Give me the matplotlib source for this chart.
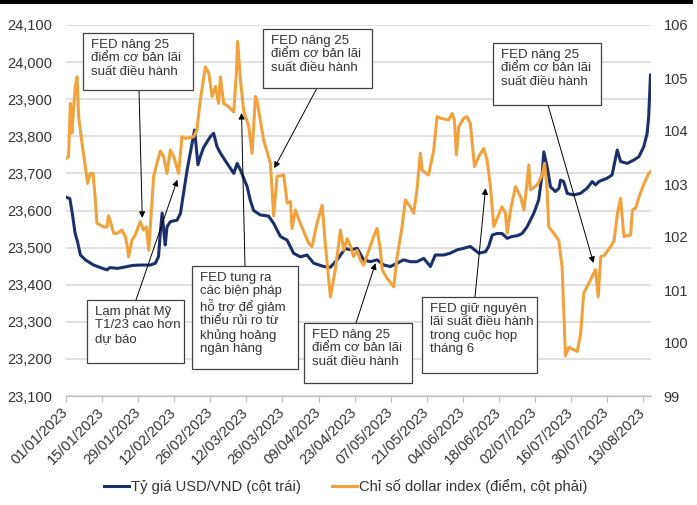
"""
USD/VND exchange rate vs. US dollar index, 01/2023 - 08/2023.

Two-axis line chart with FED event call-outs.
"""
import numpy as np
import pandas as pd
import matplotlib
matplotlib.use("Agg")
import matplotlib.pyplot as plt
import matplotlib.transforms as mtransforms
from matplotlib.patches import Rectangle

plt.rcParams["font.family"] = ["Liberation Sans", "DejaVu Sans"]

# ── Data (day offsets from 01/01/2023) ───────────────────────────────────────
START_DATE = "2023-01-01"

USDVND_DAY = [0, 1.5, 2.5, 3.5, 4.5, 5.6, 7.5, 10.7, 13, 15.9, 17, 20, 23.7, 26, 28.8,
              32.7, 34.7, 35.9, 36.6, 37.3, 37.9, 38.5, 39.2, 40.5, 43.1, 44.4, 45.6,
              47.0, 48.2, 49.9, 51.2, 52.1, 53.4, 56.0, 57.3, 58.6, 59.9, 62.5, 65.1,
              66.4, 67.7, 70.3, 71.5, 72.8, 75.4, 78.6, 80.6, 83.2, 85.8, 88.3, 90.9,
              93.5, 96.1, 100, 102.6, 105.2, 108.4, 110.4, 113, 115.5, 118.1, 120.7,
              123.3, 125.9, 128.5, 131, 133.6, 136.2, 138.8, 141.4, 143.3, 146.6,
              149.1, 151.8, 154.3, 156.9, 160.2, 162.8, 164, 165.4, 167.3, 169.2,
              171.2, 173.1, 175.1, 177, 178.9, 181.5, 183.4, 184.8, 185.4, 186.7, 188,
              189.9, 191.3, 191.9, 193.1, 194.5, 197, 199.6, 202.2, 204.2, 205.5,
              206.8, 208.1, 210, 211.9, 213.9, 215.2, 217.8, 220.3, 222.3, 224.2,
              225.5, 226.1, 226.8]
USDVND = [23636, 23632, 23590, 23540, 23515, 23480, 23467, 23453, 23447, 23440,
          23446, 23444, 23449, 23452, 23453, 23453, 23458, 23476, 23540, 23593,
          23547, 23507, 23556, 23570, 23574, 23592, 23646, 23709, 23754, 23817,
          23723, 23745, 23770, 23799, 23808, 23772, 23755, 23727, 23700, 23727,
          23709, 23664, 23628, 23600, 23588, 23585, 23565, 23530, 23520, 23485,
          23475, 23480, 23458, 23449, 23447, 23467, 23498, 23494, 23498, 23467,
          23462, 23467, 23453, 23449, 23458, 23467, 23462, 23462, 23471, 23449,
          23480, 23480, 23485, 23494, 23498, 23503, 23485, 23489, 23503, 23534,
          23538, 23538, 23525, 23530, 23532, 23538, 23556, 23592, 23628, 23700,
          23758, 23718, 23664, 23651, 23660, 23682, 23678, 23646, 23642, 23646,
          23660, 23678, 23669, 23678, 23682, 23687, 23696, 23763, 23732, 23727,
          23736, 23745, 23772, 23808, 23853, 23965]

DXY_DAY = [0, 1.0, 1.7, 2.3, 2.9, 3.6, 4.3, 4.9, 6.2, 7.5, 8.4, 9.4, 10.5, 11.4, 12.0,
           14.6, 15.9, 16.5, 17.2, 18.5, 19.9, 21.7, 23.0, 23.7, 24.3, 25.6, 26.9,
           28.8, 30.1, 31.2, 32.1, 34.0, 35.3, 36.6, 37.9, 39.2, 40.5, 41.8, 43.7,
           45.0, 46.3, 49.5, 50.8, 52.1, 54.1, 55.4, 56.7, 58.0, 59.2, 59.9, 61.2,
           63.1, 65.1, 66.1, 66.6, 67.7, 68.9, 70.9, 72.2, 73.5, 74.1, 76.7, 79.3,
           80.6, 81.9, 84.5, 85.8, 87.1, 87.7, 89.0, 90.9, 94.2, 95.5, 97.4, 99.4,
           100.6, 102.6, 104.5, 106.5, 107.8, 109.1, 110.4, 111.6, 113.0, 114.2,
           115.5, 117.5, 119.4, 120.7, 122.0, 122.7, 124.6, 127.2, 128.5, 130.4,
           131.7, 133.6, 134.9, 136.2, 137.5, 138.2, 140.7, 142.7, 144.0, 145.3,
           148.5, 149.8, 150.7, 151.5, 152.4, 154.3, 155.6, 156.9, 158.5, 160.2,
           162.1, 163.4, 164.7, 166.0, 169.2, 170.5, 171.2, 172.5, 174.4, 176.4,
           177.7, 178.3, 179.6, 180.2, 182.8, 184.8, 185.7, 186.7, 187.3, 189.3,
           191.2, 192.5, 193.2, 193.8, 195.1, 198.4, 199.7, 200.9, 202.9, 204.8,
           205.5, 206.5, 207.5, 208.8, 211.4, 212.7, 214.0, 215.2, 216.5, 219.1,
           219.8, 221.1, 222.4, 224.3, 226.1, 226.8]
DXY = [103.48, 103.52, 104.52, 103.96, 104.40, 104.84, 105.02, 104.27, 103.77, 103.33,
       103.01, 103.20, 103.20, 102.70, 102.26, 102.19, 102.19, 102.40, 102.30, 102.07,
       102.07, 102.13, 102.01, 101.85, 101.63, 101.94, 102.04, 102.29, 102.13, 102.19,
       101.75, 103.14, 103.39, 103.62, 103.52, 103.20, 103.64, 103.52, 103.20, 103.89,
       103.86, 103.89, 104.02, 104.58, 105.21, 105.09, 104.65, 104.84, 104.52, 105.02,
       104.52, 104.46, 104.36, 105.09, 105.69, 104.96, 104.40, 104.08, 103.58, 104.65,
       104.58, 103.83, 103.39, 102.40, 103.14, 103.17, 102.64, 102.67, 102.16, 102.51,
       102.26, 101.88, 101.82, 102.26, 102.60, 101.88, 100.87, 101.38, 102.13, 101.75,
       101.97, 101.82, 101.63, 101.75, 101.57, 101.47, 101.75, 102.01, 102.16, 101.75,
       101.38, 101.22, 101.06, 101.63, 102.19, 102.70, 102.57, 102.45, 102.89, 103.58,
       103.26, 103.17, 103.64, 104.27, 104.24, 104.21, 104.33, 104.21, 103.55, 104.08,
       104.24, 104.27, 104.14, 103.33, 103.52, 103.67, 103.45, 102.95, 102.20, 102.57,
       102.45, 102.07, 102.51, 102.95, 102.76, 102.51, 102.76, 103.36, 102.89, 102.98,
       103.17, 103.39, 102.89, 102.19, 102.07, 101.94, 101.44, 100.56, 99.76, 99.92,
       99.84, 100.18, 100.94, 101.13, 101.32, 101.38, 100.87, 101.63, 101.65, 101.82,
       101.94, 102.45, 102.73, 102.01, 102.04, 102.51, 102.55, 102.76, 103.01, 103.20,
       103.23]

LEFT_TICKS = list(range(23100, 24101, 100))
RIGHT_TICKS = list(range(99, 107))
TICK_DATES = pd.date_range(START_DATE, "2023-08-13", freq="14D")

LABEL_USDVND = "Tỷ giá USD/VND (cột trái)"
LABEL_DXY = "Chỉ số dollar index (điểm, cột phải)"

# call-outs: text, box (px: x0, y0, x1, y1), arrow start (px), target axis, target (day, value)
FED_HIKE = "FED nâng 25\nđiểm cơ bản lãi\nsuất điều hành"
CALLOUTS = [
    (FED_HIKE, (83, 33, 193, 90), (139, 90), "dxy", (29.6, 102.36)),
    (FED_HIKE, (263, 29, 372, 88), (317, 88), "dxy", (80.8, 103.30)),
    (FED_HIKE, (493, 43, 601, 105), (548, 105), "dxy", (204.7, 101.51)),
    ("Lạm phát Mỹ\nT1/23 cao hơn\ndự báo", (87, 300, 184, 363), (136, 300), "dxy", (43.2, 103.08)),
    ("FED tung ra\ncác biện pháp\nhỗ trợ để giảm\nthiểu rủi ro từ\nkhủng hoảng\nngân hàng",
     (192, 266, 298, 369), (245, 266), "dxy", (68.1, 104.34)),
    (FED_HIKE, (304, 323, 412, 383), (356, 323), "usd", (120.1, 23458)),
    ("FED giữ nguyên\nlãi suất điều hành\ntrong cuộc họp\ntháng 6",
     (422, 297, 537, 373), (475, 297), "dxy", (162.8, 102.92)),
]

NAVY = "#1B2F6B"
ORANGE = "#F2A23C"
TEXT = "#333333"
GRID = "#D9D9D9"

W, H = 697, 505


def fig_xy(x, y):
    """Pixel (top-left origin) -> figure fraction."""
    return x / W, 1 - y / H


fig = plt.figure(figsize=(W / 100, H / 100), dpi=100)
ax = fig.add_axes([66 / W, 1 - 396 / H, (651 - 66) / W, (396 - 25) / H])
ax2 = ax.twinx()

ax.plot(USDVND_DAY, USDVND, color=NAVY, lw=2.2, label=LABEL_USDVND, solid_joinstyle="round")
ax2.plot(DXY_DAY, DXY, color=ORANGE, lw=2.2, label=LABEL_DXY, solid_joinstyle="round")

tick_days = (TICK_DATES - pd.Timestamp(START_DATE)).days
ax.set_xlim(0, 227)
ax.set_xticks(tick_days)
ax.set_xticklabels(TICK_DATES.strftime("%d/%m/%Y"), rotation=45, ha="right",
                   va="center", rotation_mode="anchor", fontsize=10.5, color=TEXT)
shift = mtransforms.ScaledTranslation(3 / 100, 0, fig.dpi_scale_trans)
for lbl in ax.get_xticklabels():
    lbl.set_transform(lbl.get_transform() + shift)

ax.set_ylim(23100, 24100)
ax.set_yticks(LEFT_TICKS)
ax.set_yticklabels([f"{v:,}" for v in LEFT_TICKS], fontsize=10.5, color=TEXT)
ax2.set_ylim(99, 106)
ax2.set_yticks(RIGHT_TICKS)
ax2.set_yticklabels([str(v) for v in RIGHT_TICKS], fontsize=10.5, color=TEXT)

ax.grid(axis="y", color=GRID, lw=1.1)
ax.set_axisbelow(True)
for a in (ax, ax2):
    for side in ("top", "left", "right"):
        a.spines[side].set_visible(False)
    a.spines["bottom"].set_color("#BFBFBF")
ax.tick_params(axis="y", length=0, pad=10)
ax2.tick_params(axis="y", length=0, pad=9)
ax.tick_params(axis="x", length=4, color="#BFBFBF", pad=6)

# call-out boxes and arrows
for text, (x0, y0, x1, y1), start, target_axis, target in CALLOUTS:
    bx, by = fig_xy(x0, y1)
    fig.add_artist(Rectangle((bx, by), (x1 - x0) / W, (y1 - y0) / H,
                             transform=fig.transFigure, facecolor="white",
                             edgecolor="#404040", lw=0.9, zorder=5))
    tx, ty = fig_xy(x0 + 8, y0 + 6)
    fig.text(tx, ty, text, ha="left", va="top", fontsize=9.5, color=TEXT,
             linespacing=1.15, zorder=6)
    target_ax = ax2 if target_axis == "dxy" else ax
    target_ax.annotate("", xy=target, xycoords="data",
                       xytext=fig_xy(*start), textcoords="figure fraction",
                       arrowprops=dict(arrowstyle="-|>", color="black", lw=0.7,
                                       shrinkA=0, shrinkB=0, mutation_scale=9),
                       annotation_clip=False)

# top black rule
fig.add_artist(Rectangle(fig_xy(0, 4), 693 / W, 4 / H, transform=fig.transFigure,
                         facecolor="black", edgecolor="none"))

handles = ax.get_lines()[:1] + ax2.get_lines()[:1]
fig.legend(handles, [h.get_label() for h in handles], loc="center",
           bbox_to_anchor=fig_xy(346, 487), ncol=2, frameon=False, fontsize=10.6,
           handlelength=1.7, handletextpad=0.15, columnspacing=2.1,
           labelcolor=TEXT)

fig.savefig("out.png", dpi=100)
